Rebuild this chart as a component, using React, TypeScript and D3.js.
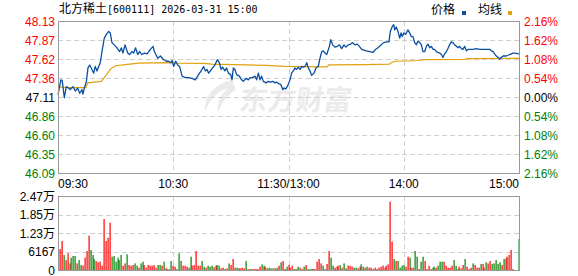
import React from "react";
import * as d3 from "d3";

const W = 578;
const H = 276;

const title = "北方稀土";
const titleCode = "[600111] 2026-03-31 15:00";
const prevClose = 47.11;
const priceTicks = ["48.13", "47.87", "47.62", "47.36", "47.11", "46.86", "46.60", "46.35", "46.09"];
const pctTicks = ["2.16", "1.62", "1.08", "0.54", "0.00", "0.54", "1.08", "1.62", "2.16"];
const volTicks = ["2.47万", "1.85万", "1.23万", "6167", "0"];
const volMax = 24668;
const timeLabels = ["09:30", "10:30", "11:30/13:00", "14:00", "15:00"];
const timeLabelMinutes = [0, 60, 120, 180, 240];

// [minute, price]
const pricePoints: [number, number][] = [
  [0, 47.14], [1.5, 47.34], [2.2, 47.33], [3.3, 47.1], [4.3, 47.25], [5.5, 47.23], [6.4, 47.21], [7.8, 47.25],
  [9, 47.19], [10.2, 47.23], [11.3, 47.16], [12.5, 47.21], [13, 47.15], [13.7, 47.23], [14.8, 47.32], [15.6, 47.5],
  [16.5, 47.54], [17.7, 47.48], [18.6, 47.43], [19.4, 47.52], [20.3, 47.46], [21.2, 47.52], [22, 47.57], [22.9, 47.72],
  [24.1, 47.9], [25.2, 47.95], [26.4, 47.99], [27.2, 47.97], [28.1, 47.84], [29.3, 47.81], [30.7, 47.77], [32.1, 47.72],
  [33, 47.77], [33.8, 47.7], [34.9, 47.81], [36.3, 47.7], [37.3, 47.68], [38.5, 47.72], [39.4, 47.7], [40.4, 47.77],
  [41.5, 47.68], [42.5, 47.72], [43.7, 47.68], [45, 47.7], [46.3, 47.69], [48.1, 47.75], [49.5, 47.79], [50.2, 47.72],
  [51.9, 47.63], [53.3, 47.66], [55, 47.61], [56.4, 47.59], [57.6, 47.59], [58.8, 47.57], [59.4, 47.6], [60.2, 47.52],
  [61.3, 47.59], [62.3, 47.54], [63.3, 47.52], [64.6, 47.39], [66.3, 47.37], [68, 47.37], [69.8, 47.36], [71.5, 47.34],
  [73.2, 47.41], [74.5, 47.46], [75.8, 47.52], [76.7, 47.46], [77.6, 47.48], [78.4, 47.43], [79.3, 47.46],
  [80.5, 47.5], [81.7, 47.54], [82.9, 47.61], [84, 47.57], [84.9, 47.48], [85.7, 47.51], [86.9, 47.46], [87.8, 47.5],
  [88.7, 47.43], [89.9, 47.41], [90.6, 47.34], [91.3, 47.5], [92.1, 47.48], [93, 47.41], [94.4, 47.39], [95.6, 47.34],
  [96.5, 47.32], [97.9, 47.36], [99.1, 47.34], [100, 47.37], [101.3, 47.37], [102.6, 47.39], [103.4, 47.34], [104.3, 47.43],
  [105.2, 47.34], [106, 47.39], [106.9, 47.32], [108.3, 47.3], [109.5, 47.32], [110.7, 47.31], [111.8, 47.32], [113, 47.3],
  [113.8, 47.31], [114.7, 47.29], [115.9, 47.28], [117, 47.21], [117.7, 47.23], [118.7, 47.22], [119.9, 47.28], [120.8, 47.34],
  [121.6, 47.43], [122.5, 47.46], [123.4, 47.5], [124.2, 47.48], [125.1, 47.51], [126, 47.48], [126.9, 47.52], [127.7, 47.51],
  [128.6, 47.52], [129.5, 47.57], [130.3, 47.5], [131.2, 47.46], [132.1, 47.4], [133.3, 47.43], [134.3, 47.5], [135.5, 47.52],
  [136.4, 47.63], [137.3, 47.72], [138.1, 47.73], [139, 47.7], [139.9, 47.68], [141.3, 47.79], [142, 47.88], [143, 47.81],
  [144.2, 47.78], [145.4, 47.79], [146.5, 47.81], [147.7, 47.76], [148.9, 47.81], [149.9, 47.78], [151.1, 47.81], [152.4, 47.82],
  [153.4, 47.84], [154.6, 47.81], [155.8, 47.82], [156.9, 47.79], [158.1, 47.75], [159.3, 47.74],
  [160.5, 47.73], [162.3, 47.72], [164, 47.71], [165.4, 47.75], [166.6, 47.77], [168.3, 47.81], [169.5, 47.84], [171, 47.85],
  [172.3, 47.85], [173, 47.99], [174.1, 48.06], [174.8, 48.08], [175.3, 48.01], [176.1, 48.05], [177, 47.99], [177.9, 47.9],
  [178.6, 47.97], [179.3, 47.92], [180, 47.97], [181, 47.95], [181.7, 47.99], [182.2, 48.01], [183.1, 47.97], [184, 47.92],
  [184.8, 47.92], [185.7, 47.84], [186.6, 47.81], [187.4, 47.86], [188.3, 47.84], [189.2, 47.81], [190, 47.72], [190.9, 47.72],
  [191.8, 47.79], [192.6, 47.82], [193.5, 47.77], [194.4, 47.79], [195.2, 47.75], [196.1, 47.75], [197, 47.72], [197.8, 47.71],
  [198.7, 47.7], [199.6, 47.68], [200.4, 47.64], [201.3, 47.69], [202.2, 47.72], [203, 47.76], [203.9, 47.81], [204.8, 47.85],
  [205.6, 47.84], [206.5, 47.81], [207.4, 47.79], [208.3, 47.77], [209.1, 47.79], [210, 47.76], [210.8, 47.75], [211.7, 47.79],
  [212.6, 47.73], [213.5, 47.75], [214.3, 47.75], [216.1, 47.75], [217.8, 47.76], [219.5, 47.75], [221.3, 47.75], [223, 47.75],
  [224.7, 47.75], [225.6, 47.73], [226.5, 47.72], [227.3, 47.69], [228.2, 47.66], [229.1, 47.64], [229.9, 47.62], [230.8, 47.64],
  [231.7, 47.66], [232.5, 47.66], [233.4, 47.66], [234.3, 47.67], [235.1, 47.68], [236, 47.69], [236.9, 47.7], [237.8, 47.7],
  [240, 47.69],
];

// [minute, average price]
const avgPoints: [number, number][] = [
  [0, 47.25], [3, 47.24], [5, 47.235], [14.5, 47.235], [15.5, 47.3], [22.5, 47.32], [25, 47.4], [27.5, 47.49],
  [30, 47.53], [35, 47.545], [42, 47.565], [58, 47.57], [62, 47.565], [76, 47.56], [80, 47.55], [92, 47.545],
  [108, 47.535], [118, 47.52], [140, 47.515], [141, 47.54], [160, 47.545], [172.5, 47.55], [173.5, 47.57], [175.5, 47.59],
  [189, 47.6], [190, 47.612], [212, 47.615], [213, 47.625], [240, 47.628],
];

// volume per minute, 0..240
const volumes: number[] = [
  0, 7000, 9670, 5000, 3330, 5560, 2200, 4100, 4670, 4670, 2200, 3330, 1670, 1440, 4100, 6330, 11440, 6670, 5000, 3670,
  3000, 2560, 2780, 1440, 17000, 9670, 10780, 15780, 4440, 4670, 2780, 4100, 3330, 5000, 1440, 2200, 5220, 1670, 1440, 1670,
  2200, 1440, 780, 2200, 2780, 1670, 780, 1670, 1440, 1440, 1670, 780, 1670, 1670, 1440, 2780, 560, 330, 330, 3000,
  1440, 1110, 330, 5560, 3000, 1440, 1440, 1110, 780, 4440, 1440, 1670, 6330, 1440, 1440, 3000, 1110, 780, 1440, 1110,
  1440, 900, 1440, 1670, 1440, 560, 780, 330, 560, 2200, 1670, 3670, 780, 780, 560, 560, 780, 560, 3000, 330,
  330, 330, 330, 330, 330, 1110, 1890, 1440, 1110, 560, 780, 560, 560, 560, 780, 1440, 2560, 3000, 330, 1110,
  1670,
  780, 1440, 330, 330, 1110, 780, 330, 1110, 1670, 330, 330, 330, 330, 330, 2780, 3670, 2200, 1440, 330, 2000,
  6330, 4100, 1440, 780, 1110, 1440, 1670, 780, 2200, 560, 1440, 1440, 1110, 780, 780, 560, 1110, 1890, 1110, 780,
  1110, 780, 780, 330, 780, 330, 780, 1110, 1440, 780, 1440, 1890, 22780, 9440, 3670, 3000, 3000, 780, 1440, 1670,
  1110, 4440, 4100, 780, 780, 6330, 4440, 330, 2780, 4440, 3000, 330, 1440, 330, 780, 1110, 780, 1440, 2780, 2780,
  2780, 1440, 780, 780, 1440, 3330, 1440, 330, 1110, 560, 1670, 3670, 1110, 330, 780, 2200, 1670, 780, 780, 2000,
  2000, 780, 2560, 2200, 3000, 2000, 2200, 3330, 2000, 2560, 1670, 3670, 3890, 4440, 5000, 6670, 330, 0, 0, 10330,
];
// 1 = up (red), 0 = down (green)
const volumeUp: number[] = [
  1, 1, 1, 0, 1, 1, 1, 0, 0, 0, 1, 0, 0, 1, 1, 1, 1, 0, 0, 0,
  1, 1, 1, 1, 1, 1, 1, 1, 0, 0, 0, 0, 0, 0, 1, 1, 0, 1, 1, 1,
  0, 0, 1, 0, 0, 1, 1, 1, 1, 1, 1, 1, 0, 0, 1, 0, 1, 1, 0, 0,
  1, 1, 0, 0, 0, 1, 1, 1, 0, 0, 1, 1, 1, 1, 1, 0, 0, 1, 0, 0,
  0, 1, 1, 0, 0, 1, 1, 0, 1, 0, 1, 1, 1, 0, 0, 1, 1, 1, 0, 1,
  0, 1, 1, 1, 1, 1, 0, 0, 1, 1, 0, 0, 0, 1, 0, 1, 0, 1, 1, 0,
  1,
  1, 1, 0, 0, 0, 1, 1, 0, 1, 0, 0, 0, 1, 1, 1, 1, 1, 0, 0, 1,
  1, 0, 0, 1, 1, 1, 0, 1, 0, 0, 1, 1, 1, 0, 0, 1, 1, 0, 0, 1,
  0, 1, 1, 0, 1, 1, 1, 1, 1, 1, 1, 1, 1, 1, 0, 1, 0, 0, 0, 0,
  1, 1, 0, 1, 1, 0, 0, 1, 0, 0, 1, 1, 1, 1, 0, 0, 1, 0, 0, 0,
  1, 1, 1, 1, 1, 0, 0, 0, 1, 1, 1, 0, 1, 1, 1, 0, 1, 1, 1, 0,
  1, 1, 0, 1, 1, 0, 0, 0, 0, 0, 1, 0, 1, 1, 1, 1, 1, 1, 1, 0,
];

const RED = "#ff0000";
const GREEN = "#008000";
const BLUE = "#0a4fa3";
const GOLD = "#e0a20e";
const FRAME = "#999999";
const GRID = "#cfcfcf";
const NUM_FONT = "'Liberation Sans', Arial, sans-serif";
const CJK_FONT = "'Noto Sans CJK SC', sans-serif";

export default function App() {
  const left = 58, right = 519, top = 21, bottom = 173;
  const vTop = 196, vBottom = 270;

  const x = d3.scaleLinear().domain([0, 240]).range([left, right]);
  const y = d3.scaleLinear().domain([prevClose - 1.02, prevClose + 1.02]).range([bottom, top]);
  const yv = d3.scaleLinear().domain([0, volMax]).range([vBottom, vTop]);
  const tickY = d3.scaleLinear().domain([0, priceTicks.length - 1]).range([top, bottom]);
  const volTickY = d3.scaleLinear().domain([0, volTicks.length - 1]).range([vTop, vBottom]);

  const priceLine = d3.line<[number, number]>().x((d) => x(d[0])).y((d) => y(d[1]));
  const gridMinutes = [60, 120, 180];

  const labelColor = (i: number) => (i < 4 ? RED : i === 4 ? "#000" : GREEN);

  return (
    <svg width={W} height={H} style={{ position: "absolute", left: 0, top: 0, background: "#fff" }}>
      {/* title */}
      <text x={59} y={13} fontSize={12} fill="#000">
        <tspan fontFamily={CJK_FONT}>{title}</tspan>
        <tspan fontFamily="'DejaVu Sans Mono', monospace" fontSize={10}>{titleCode}</tspan>
      </text>
      {/* legend */}
      <text x={431} y={14} fontSize={12} fontFamily={CJK_FONT} fill="#000">价格</text>
      <rect x={462} y={11} width={4} height={4} fill={BLUE} />
      <text x={478} y={14} fontSize={12} fontFamily={CJK_FONT} fill="#000">均线</text>
      <rect x={508} y={11} width={4} height={4} fill={GOLD} />

      {/* watermark */}
      <g fill="#ebebeb" opacity={1}>
        <path d="M232,80 C214,84 204,96 205,112 C209,100 216,92 228,88 C220,96 216,104 218,113 C222,102 228,94 236,90 Z" />
        <text x={240} y={110} fontSize={28} fontWeight="bold" fontFamily={CJK_FONT} transform="skewX(-8) translate(14,0)">东方财富</text>
      </g>

      {/* main grid */}
      {priceTicks.slice(1, -1).map((_, i) => (
        <line key={"hg" + i} x1={left} x2={right} y1={Math.round(tickY(i + 1)) + 0.5} y2={Math.round(tickY(i + 1)) + 0.5}
          stroke={GRID} strokeDasharray="5,3" />
      ))}
      {gridMinutes.map((m) => (
        <line key={"vg" + m} x1={Math.round(x(m)) + 0.5} x2={Math.round(x(m)) + 0.5} y1={top} y2={bottom}
          stroke={GRID} strokeDasharray="5,3" />
      ))}

      {/* avg + price */}
      <path d={priceLine(avgPoints) || ""} fill="none" stroke={GOLD} strokeWidth={1.2} />
      <path d={priceLine(pricePoints) || ""} fill="none" stroke={BLUE} strokeWidth={1.3} strokeLinejoin="round" />

      <rect x={left + 0.5} y={top + 0.5} width={right - left} height={bottom - top} fill="none" stroke={FRAME} />

      {/* price labels */}
      {priceTicks.map((t, i) => (
        <text key={"pl" + i} x={55} y={tickY(i) + 4.5} textAnchor="end" fontSize={12} fontFamily={NUM_FONT} fill={labelColor(i)}>{t}</text>
      ))}
      {pctTicks.map((t, i) => (
        <text key={"pr" + i} x={524} y={tickY(i) + 4.5} fontSize={12} fontFamily={NUM_FONT} fill={labelColor(i)}>{t + "%"}</text>
      ))}

      {/* time labels */}
      {timeLabels.map((t, i) => (
        <text key={"tl" + i} x={x(timeLabelMinutes[i])} y={188} fontSize={12} fontFamily={NUM_FONT} fill="#000"
          textAnchor={i === 0 ? "start" : i === timeLabels.length - 1 ? "end" : "middle"}>{t}</text>
      ))}

      {/* volume grid */}
      {volTicks.slice(1, -1).map((_, i) => (
        <line key={"vhg" + i} x1={left} x2={right} y1={Math.round(volTickY(i + 1)) + 0.5} y2={Math.round(volTickY(i + 1)) + 0.5}
          stroke={GRID} strokeDasharray="5,3" />
      ))}
      {gridMinutes.map((m) => (
        <line key={"vvg" + m} x1={Math.round(x(m)) + 0.5} x2={Math.round(x(m)) + 0.5} y1={vTop} y2={vBottom}
          stroke={GRID} strokeDasharray="5,3" />
      ))}

      {/* volume bars */}
      {volumes.map((v, i) => (
        v > 0 ? (
          <rect key={"vb" + i} x={Math.round(x(i)) - 0.5} y={yv(v)} width={1.2} height={vBottom - yv(v)}
            fill={volumeUp[i] ? RED : GREEN} />
        ) : null
      ))}

      <rect x={left + 0.5} y={vTop + 0.5} width={right - left} height={vBottom - vTop} fill="none" stroke={FRAME} />

      {volTicks.map((t, i) => (
        <text key={"vl" + i} x={55} y={volTickY(i) + 4.5} textAnchor="end" fontSize={12} fill="#000">
          {t.endsWith("万") ? (
            <>
              <tspan fontFamily={NUM_FONT}>{t.slice(0, -1)}</tspan>
              <tspan fontFamily={CJK_FONT}>万</tspan>
            </>
          ) : (
            <tspan fontFamily={NUM_FONT}>{t}</tspan>
          )}
        </text>
      ))}
    </svg>
  );
}
